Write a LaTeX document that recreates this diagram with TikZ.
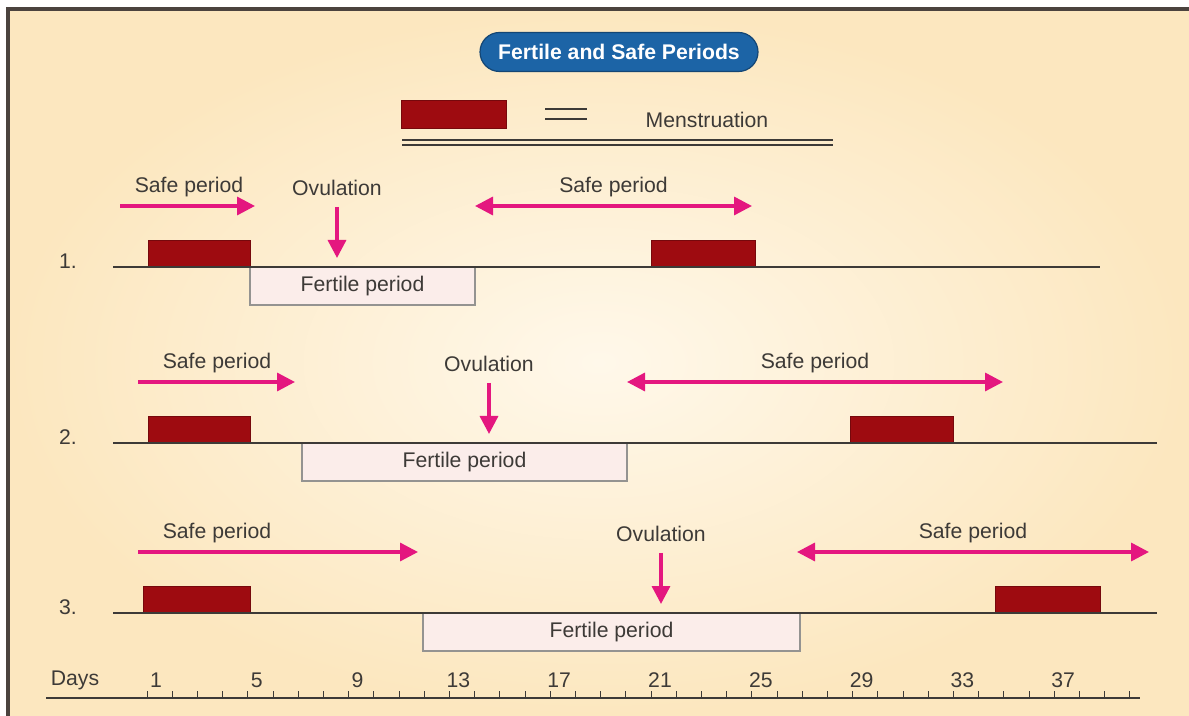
\documentclass[tikz,border=0pt]{standalone}
\usepackage{fontspec}
\setmainfont{Liberation Sans}
\usetikzlibrary{arrows.meta}
\definecolor{cycleRed}{HTML}{9E0B10}
\definecolor{cyclePink}{HTML}{E4177F}
\definecolor{cycleInk}{HTML}{3D3A37}
\definecolor{cycleBlue}{HTML}{1C64A6}
\definecolor{cycleFertile}{HTML}{FBEDEA}
\definecolor{cycleBgIn}{HTML}{FFF8EA}
\definecolor{cycleBgOut}{HTML}{FCE7BF}
\definecolor{cycleFrame}{HTML}{4B433E}
\tikzset{
  cycle diagram/.style={
    x=0.5pt, y=-0.5pt,
    every node/.style={font=\fontsize{10.6}{12.7}\selectfont,
      text=cycleInk, inner sep=0pt, outer sep=0pt}
  },
  cycle line/.style={draw=cycleInk, line width=1pt},
  cycle menses/.style={fill=cycleRed, draw=cycleRed!75!black, line width=0.4pt},
  cycle fertile/.style={fill=cycleFertile, draw=cycleInk!55, line width=0.7pt},
  cycle arrow/.style={draw=cyclePink, line width=1.7pt,
    >={Triangle[length=9pt,width=9pt]}},
  cycle title/.style={fill=cycleBlue, draw=cycleBlue!70!black, line width=0.6pt,
    rounded corners=9.75pt, minimum width=139pt, minimum height=19.5pt,
    text=white, font=\fontsize{10.6}{12.7}\selectfont\bfseries}
}

\begin{document}
\begin{tikzpicture}[cycle diagram]
  \useasboundingbox (0,0) rectangle (1189,716);
  \fill[white] (0,0) rectangle (1189,716);
  \shade[inner color=cycleBgIn, outer color=cycleBgOut] (8,9) rectangle (1189,716);
  \draw[cycleFrame, line width=2pt] (1189,9) -- (8,9) -- (8,716);

  % title and key
  \node[cycle title] (title) at (619,52) {Fertile and Safe Periods};
  \fill[cycle menses] (401,100) rectangle (506,128);
  \draw[cycle line, line width=0.8pt] (545,109) -- (587,109) (545,119) -- (587,119);
  \node (menses) at (707,120) {Menstruation};
  \draw[cycle line, line width=0.8pt] (402,140) -- (833,140) (402,145) -- (833,145);

  % the three cycles
  \foreach \cycY/\cycNum/\cycEnd/\barA/\barB/\barC/\fertA/\fertB/\safeA/\safeB/\safeX/\ovuX/\dblA/\dblB in {
      267/1/1100/148/651/755/250/475/120/255/189/337/475/752,
      443/2/1157/148/850/953/302/627/138/295/217/489/627/1003,
      613/3/1157/143/995/1100/423/800/138/418/217/661/797/1149} {
    \node (num\cycNum) at (68,\cycY-6) {\cycNum.};
    \fill[cycle menses] (\barA,\cycY-27) rectangle (250,\cycY);
    \fill[cycle menses] (\barB,\cycY-27) rectangle (\barC,\cycY);
    \draw[cycle fertile] (\fertA,\cycY) rectangle (\fertB,\cycY+38);
    \node (fert\cycNum) at ({(\fertA+\fertB)/2},\cycY+19) {Fertile period};
    \draw[cycle line] (113,\cycY) -- (\cycEnd,\cycY);
    % safe period before ovulation
    \node (safeL\cycNum) at (\safeX,\cycY-80) {Safe period};
    \coordinate (safeS\cycNum) at (\safeA,\cycY-61);
    \coordinate (safeE\cycNum) at (\safeB,\cycY-61);
    \draw[cycle arrow,->] (safeS\cycNum) -- (safeE\cycNum);
    % ovulation
    \node (ovu\cycNum) at (\ovuX,\cycY-79) {Ovulation};
    \coordinate (ovuT\cycNum) at (\ovuX,\cycY-9);
    \draw[cycle arrow,->] (ovu\cycNum.south) ++(0,11) -- (ovuT\cycNum);
    % safe period after ovulation
    \node (safeR\cycNum) at ({(\dblA+\dblB)/2},\cycY-80) {Safe period};
    \coordinate (dblS\cycNum) at (\dblA,\cycY-61);
    \coordinate (dblE\cycNum) at (\dblB,\cycY-61);
    \draw[cycle arrow,<->] (dblS\cycNum) -- (dblE\cycNum);
  }

  % day scale
  \node (days) at (75,680) {Days};
  \draw[cycle line] (46,698) -- (1140,698);
  \foreach \dayN in {1,...,40}
    \draw[cycle line, line width=0.5pt] ({147+(\dayN-1)*25.2},698) -- ++(0,-7);
  \foreach \dayN in {1,5,...,37}
    \node (day\dayN) at ({156+(\dayN-1)*25.2},680) {\dayN};
\end{tikzpicture}
\end{document}
